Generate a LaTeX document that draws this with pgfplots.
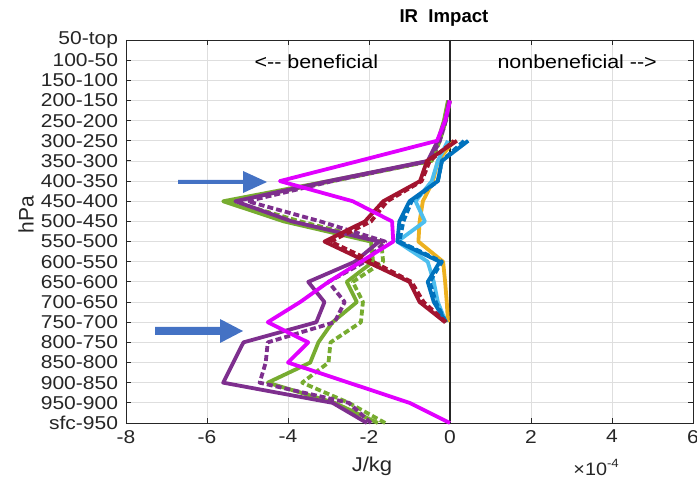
\documentclass[border=0pt]{standalone}
\usepackage{fontspec}
\setmainfont{Liberation Sans}
\usepackage{pgfplots}
\pgfplotsset{compat=1.18}
\definecolor{mag}{RGB}{225,0,255}
\definecolor{purp}{RGB}{126,47,142}
\definecolor{grn}{RGB}{119,172,48}
\definecolor{dred}{RGB}{162,20,47}
\definecolor{mblue}{RGB}{0,114,189}
\definecolor{lblue}{RGB}{77,190,238}
\definecolor{orng}{RGB}{237,177,32}
\definecolor{arrowblue}{RGB}{68,114,196}
\definecolor{axgray}{RGB}{38,38,38}
\begin{document}
\begin{tikzpicture}
\begin{axis}[
  name=ax, at={(0,0)}, anchor=south west,
  scale only axis, width=283.5pt, height=191.5pt,
  xmin=-8, xmax=6, ymin=0, ymax=19,
  xtick={-8,-6,...,6}, ytick={0,...,19},
  yticklabels={sfc-950,950-900,900-850,850-800,800-750,750-700,700-650,650-600,600-550,550-500,500-450,450-400,400-350,350-300,300-250,250-200,200-150,150-100,100-50,50-top},
  grid=major, grid style={black!13, line width=0.4pt},
  axis line style={draw=axgray, line width=0.45pt},
  tick style={draw=axgray, line width=0.45pt},
  major tick length=2.5pt,
  tick label style={font=\fontsize{9.3}{10}\selectfont, text=axgray, xscale=1.13},
  /pgf/number format/assume math mode=true,
  every axis plot/.append style={line width=1.9pt, line join=round},
  clip=false,
]
% solid black zero line
\addplot[axgray, line width=0.8pt] coordinates {(0,0) (0,19)};

% green solid / dashed
\addplot[grn] coordinates {(-1.78,0) (-2.85,1) (-4.5,2) (-3.45,3) (-3.25,4) (-2.9,5) (-2.3,6) (-2.55,7) (-1.9,8) (-1.95,9) (-4.1,10) (-5.6,11) (-3.0,12) (-0.5,13) (-0.3,14) (-0.15,15) (-0.05,16)};
\addplot[grn, dash pattern=on 3pt off 1.5pt] coordinates {(-1.6,0) (-2.5,1) (-3.65,2) (-3.0,3) (-2.95,4) (-2.2,5) (-2.15,6) (-2.4,7) (-1.65,8) (-1.7,9) (-3.7,10) (-5.4,11) (-2.9,12) (-0.45,13) (-0.25,14) (-0.1,15) (0,16)};
% purple solid / dashed
\addplot[purp] coordinates {(-2.05,0) (-2.9,1) (-5.6,2) (-5.35,3) (-5.1,4) (-3.3,5) (-3.1,6) (-3.5,7) (-2.35,8) (-1.75,9) (-3.9,10) (-5.3,11) (-3.0,12) (-0.55,13) (-0.3,14) (-0.12,15) (-0.02,16)};
\addplot[purp, dash pattern=on 3pt off 1.5pt] coordinates {(-1.95,0) (-2.5,1) (-4.7,2) (-4.55,3) (-4.5,4) (-2.85,5) (-2.6,6) (-3.0,7) (-2.1,8) (-1.6,9) (-3.2,10) (-5.0,11) (-2.9,12) (-0.5,13) (-0.25,14) (-0.1,15) (0,16)};
% orange, light blue, blue
\addplot[orng] coordinates {(-0.05,5) (-0.08,6) (-0.12,7) (-0.17,8) (-0.78,9) (-0.75,10) (-0.67,11) (-0.42,12) (-0.3,13) (0.1,14)};
\addplot[lblue] coordinates {(-0.1,5) (-0.3,6) (-0.4,7) (-0.55,8) (-1.3,9) (-0.62,10) (-0.85,11) (-0.45,12) (-0.3,13) (-0.05,14)};
\addplot[mblue] coordinates {(-0.1,5) (-0.4,6) (-0.55,7) (-0.25,8) (-1.3,9) (-1.25,10) (-1.0,11) (-0.3,12) (-0.2,13) (0.45,14)};
\addplot[mblue, dash pattern=on 3pt off 1.5pt] coordinates {(-0.1,5) (-0.35,6) (-0.5,7) (-0.2,8) (-1.25,9) (-1.15,10) (-0.95,11) (-0.3,12) (-0.2,13) (0.35,14)};
% dark red solid / dashed
\addplot[dred] coordinates {(-0.12,5) (-0.75,6) (-1.0,7) (-2.05,8) (-3.1,9) (-2.1,10) (-1.65,11) (-0.74,12) (-0.57,13) (0.17,14)};
\addplot[dred, dash pattern=on 3pt off 1.5pt] coordinates {(-0.1,5) (-0.65,6) (-0.95,7) (-1.9,8) (-2.95,9) (-1.95,10) (-1.55,11) (-0.7,12) (-0.5,13) (0.1,14)};
% magenta
\addplot[mag] coordinates {(0,0) (-1.0,1) (-2.5,2) (-4.0,3) (-3.5,4) (-4.5,5) (-3.7,6) (-3.0,7) (-2.2,8) (-1.4,9) (-1.43,10) (-2.4,11) (-4.2,12) (-2.25,13) (-0.32,14) (-0.12,15) (0,16)};

\node[font=\fontsize{9.5}{11}\selectfont, text=black, xscale=1.13] at (axis cs:-3.3,17.9) {<-{}- beneficial};
\node[font=\fontsize{9.5}{11}\selectfont, text=black, xscale=1.13] at (axis cs:3.14,17.9) {nonbeneficial -{}->};
\end{axis}
% titles and labels (px = 0.5pt, relative to axis south west)
\node[font=\bfseries\fontsize{9.3}{12}\selectfont, text=black] at (159pt,202.5pt) {IR\ \ Impact};
\node[font=\fontsize{10}{12}\selectfont, text=axgray, xscale=1.1, anchor=south, inner sep=0pt] at (123pt,-26.5pt) {J/kg};
\node[font=\fontsize{10.5}{12}\selectfont, text=axgray, rotate=90] at (-50pt,104pt) {hPa};
\node[font=\fontsize{9}{10}\selectfont, text=axgray, anchor=south west, inner sep=0pt, xscale=1.1] at (223.5pt,-26.5pt) {×10\textsuperscript{-4}};
% annotation arrows
\fill[arrowblue] (26pt,243pt/2) -- (58.5pt,243pt/2) -- (58.5pt,252pt/2) -- (70.5pt,241pt/2) -- (58.5pt,230pt/2) -- (58.5pt,239pt/2) -- (26pt,239pt/2) -- cycle;
\fill[arrowblue] (14.5pt,96pt/2) -- (47pt,96pt/2) -- (47pt,104pt/2) -- (58.5pt,92pt/2) -- (47pt,80pt/2) -- (47pt,88pt/2) -- (14.5pt,88pt/2) -- cycle;
\pgfresetboundingbox
\path (-63pt,-29pt) rectangle (285.5pt,211.5pt);
\end{tikzpicture}
\end{document}
